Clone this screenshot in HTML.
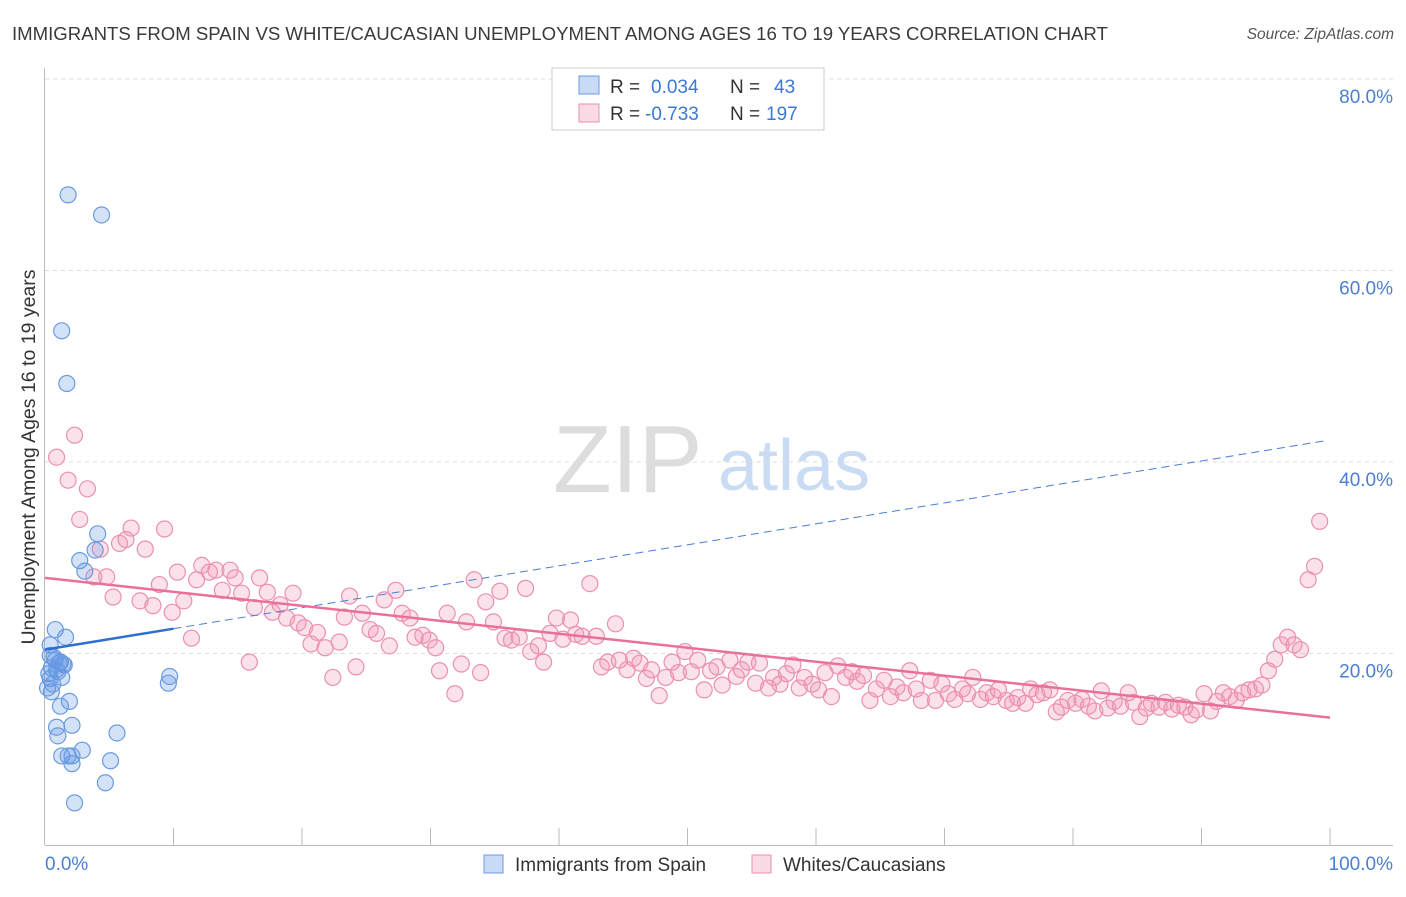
<!DOCTYPE html>
<html><head><meta charset="utf-8"><style>
body{margin:0;background:#fff;font-family:"Liberation Sans",sans-serif;}
svg text{font-family:"Liberation Sans",sans-serif;}
</style></head><body>
<svg id="chart" width="1406" height="892" xmlns="http://www.w3.org/2000/svg">
<text x="12" y="40" font-size="18.6" fill="#3a3a3a">IMMIGRANTS FROM SPAIN VS WHITE/CAUCASIAN UNEMPLOYMENT AMONG AGES 16 TO 19 YEARS CORRELATION CHART</text>
<text x="1394" y="39" font-size="15.5" fill="#555" text-anchor="end" font-style="italic">Source: ZipAtlas.com</text>
<g>
<text x="553" y="492" font-size="96" font-family="Liberation Serif" fill="#ddd">ZIP</text>
<text x="718" y="490" font-size="72" fill="#c9dcf3">atlas</text>
</g>
<g id="grid"></g>
<g id="axes"></g>
<g id="marks"></g>
<g>
<rect x="552" y="68" width="272" height="62" fill="#fff" stroke="#ccc"/>
<rect x="579" y="76" width="20" height="18" fill="rgba(100,150,230,0.35)" stroke="#6a9be0"/>
<rect x="579" y="104" width="20" height="18" fill="rgba(240,150,180,0.35)" stroke="#ec8fb0"/>
<text x="610" y="93" font-size="19" fill="#333">R =</text>
<text x="651" y="93" font-size="19" fill="#3b78d8">0.034</text>
<text x="730" y="93" font-size="19" fill="#333">N =</text>
<text x="774" y="93" font-size="19" fill="#3b78d8">43</text>
<text x="610" y="120" font-size="19" fill="#333">R =</text>
<text x="645" y="120" font-size="19" fill="#3b78d8">-0.733</text>
<text x="730" y="120" font-size="19" fill="#333">N =</text>
<text x="766" y="120" font-size="19" fill="#3b78d8">197</text>
</g>
<g>
<rect x="484" y="855" width="19" height="18" fill="rgba(100,150,230,0.35)" stroke="#6a9be0"/>
<text x="515" y="871" font-size="19" fill="#333">Immigrants from Spain</text>
<rect x="752" y="855" width="19" height="18" fill="rgba(240,150,180,0.35)" stroke="#ec8fb0"/>
<text x="783" y="871" font-size="19" fill="#333">Whites/Caucasians</text>
</g>
<text transform="translate(35,457) rotate(-90)" font-size="19.5" fill="#333" text-anchor="middle">Unemployment Among Ages 16 to 19 years</text>
</svg>
<script>
const yTicks=[20,40,60,80];
const yTickLabels=["20.0%","40.0%","60.0%","80.0%"];
const xTickLabels=["0.0%","100.0%"];
const blueX=[1.8,4.4,1.3,1.7,4.1,3.9,2.7,3.1,0.8,1.6,0.4,0.4,0.8,1.2,1.4,0.5,1.0,1.3,0.4,0.2,0.5,1.9,1.2,0.9,2.1,1.0,5.6,2.9,1.3,1.8,2.1,2.1,5.1,4.7,2.3,9.7,9.6,0.7,1.5,0.3,1.1,0.6,0.9];
const blueY=[67.9,65.8,53.7,48.2,32.5,30.8,29.7,28.6,22.5,21.7,20.9,19.8,19.3,19.1,18.9,18.5,18.1,17.5,17.4,16.4,16.0,15.0,14.5,12.3,12.5,11.4,11.7,9.9,9.3,9.3,9.3,8.5,8.8,6.5,4.4,17.6,16.9,19.6,18.8,17.9,19.0,16.8,18.3];
const pinkX=[0.9,2.3,1.8,3.3,2.7,4.3,3.8,4.8,5.3,5.8,6.7,6.3,7.8,7.4,8.4,8.9,9.3,9.9,10.3,10.8,11.4,11.8,12.2,12.8,13.3,13.8,14.4,14.8,15.3,15.9,16.3,16.7,17.3,17.7,18.3,18.8,19.3,19.7,20.2,20.7,21.2,21.8,22.4,22.9,23.3,23.7,24.2,24.7,25.3,25.8,26.4,26.8,27.3,27.8,28.4,28.8,29.4,29.9,30.4,30.7,31.3,31.9,32.4,32.8,33.4,33.9,34.3,34.9,35.4,35.8,36.3,36.9,37.4,37.8,38.4,38.8,39.3,39.8,40.3,40.9,41.3,41.8,42.4,42.9,43.3,43.8,44.4,44.7,45.3,45.8,46.3,46.8,47.2,47.8,48.3,48.8,49.3,49.8,50.3,50.8,51.3,51.8,52.3,52.7,53.3,53.8,54.2,54.7,55.3,55.6,56.3,56.7,57.2,57.7,58.2,58.7,59.1,59.7,60.2,60.7,61.2,61.7,62.3,62.8,63.2,63.7,64.2,64.7,65.3,65.8,66.3,66.8,67.3,67.8,68.2,68.9,69.3,69.8,70.3,70.8,71.4,71.8,72.2,72.8,73.3,73.8,74.2,74.8,75.3,75.7,76.3,76.7,77.2,77.7,78.2,78.7,79.1,79.6,80.2,80.7,81.2,81.7,82.2,82.7,83.2,83.7,84.3,84.7,85.2,85.7,86.1,86.7,87.2,87.7,88.2,88.7,89.2,89.6,90.2,90.7,91.2,91.7,92.2,92.7,93.2,93.7,94.2,94.7,95.2,95.7,96.2,96.7,97.2,97.7,98.3,98.8,99.2];
const pinkY=[40.5,42.8,38.1,37.2,34.0,30.9,28.0,28.0,25.9,31.5,33.1,31.9,30.9,25.5,25.0,27.2,33.0,24.3,28.5,25.5,21.6,27.7,29.2,28.5,28.7,26.6,28.7,27.9,26.3,19.1,24.8,27.9,26.4,24.3,25.1,23.7,26.3,23.2,22.7,21.0,22.2,20.6,17.5,21.2,23.8,26.0,18.6,24.2,22.5,22.1,25.6,20.8,26.6,24.2,23.7,21.7,21.9,21.4,20.6,18.2,24.2,15.8,18.9,23.3,27.7,18.0,25.4,23.3,26.5,21.6,21.4,21.7,26.8,20.2,20.8,19.1,22.1,23.7,21.5,23.5,22.0,21.8,27.3,21.8,18.6,19.1,23.1,19.3,18.3,19.5,19.0,17.4,18.3,15.6,17.5,19.1,18.0,20.2,18.1,19.3,16.2,18.2,18.6,16.7,19.3,17.6,18.3,19.1,16.9,19.0,16.4,17.5,16.8,17.9,18.8,16.4,17.5,16.8,16.2,18.0,15.5,18.7,17.5,18.1,17.1,17.7,15.1,16.3,17.2,15.5,16.5,15.9,18.2,16.3,15.1,17.2,15.1,16.8,15.8,15.2,16.3,15.8,17.5,15.2,15.9,15.5,16.2,15.1,14.8,15.4,14.8,16.3,15.7,15.9,16.2,13.9,14.4,15.1,14.8,15.2,14.5,14.0,16.1,14.3,15.0,14.5,15.9,14.9,13.4,14.3,14.8,14.4,14.9,14.2,14.6,14.4,13.6,14.1,15.8,14.0,15.0,15.9,15.5,15.1,15.9,16.2,16.3,16.7,18.2,19.4,20.9,21.7,20.9,20.4,27.7,29.1,33.8];
const blueTrend=[20.4,42.3];
const pinkTrend=[27.9,13.3];

const NS="http://www.w3.org/2000/svg";
const X=v=>45+v*12.85;
const Y=v=>845-v*9.575;
function mk(tag,attrs,parent){const e=document.createElementNS(NS,tag);for(const k in attrs)e.setAttribute(k,attrs[k]);document.getElementById(parent).appendChild(e);return e;}
yTicks.forEach((t,i)=>{
  const g=mk('line',{x1:45,x2:1393,y1:Y(t),y2:Y(t),stroke:'#ddd','stroke-dasharray':'4,4'},'grid');
  
  
  const l=mk('text',{x:1393,y:Y(t)+24,'font-size':19,fill:'#4a7fd4','text-anchor':'end'},'axes');
  l.textContent=yTickLabels[i];
  
  
});
const ax=mk('line',{x1:44.5,x2:44.5,y1:68,y2:845,stroke:'#bbb'},'axes');


const bx=mk('line',{x1:45,x2:1393,y1:845.5,y2:845.5,stroke:'#bbb'},'axes');


for(let i=1;i<=10;i++){
  const t=mk('line',{x1:X(i*10),x2:X(i*10),y1:828,y2:845,stroke:'#bbb'},'axes');
  
  
}
const xl0=mk('text',{x:45,y:870,'font-size':19,fill:'#4a7fd4'},'axes');xl0.textContent=xTickLabels[0];


const xl1=mk('text',{x:1393,y:870,'font-size':19,fill:'#4a7fd4','text-anchor':'end'},'axes');xl1.textContent=xTickLabels[1];



pinkX.forEach((x,i)=>{
  const c=mk('circle',{cx:X(x),cy:Y(pinkY[i]),r:8,fill:'rgba(240,150,180,0.28)',stroke:'#ec8fb0','stroke-width':1.2},'marks');
  
  
});
blueX.forEach((x,i)=>{
  const c=mk('circle',{cx:X(x),cy:Y(blueY[i]),r:8,fill:'rgba(100,150,230,0.28)',stroke:'#6a9be0','stroke-width':1.2},'marks');
  
  
});
const bt=v=>blueTrend[0]+(blueTrend[1]-blueTrend[0])*v/100;
const b1=mk('line',{x1:X(0),y1:Y(bt(0)),x2:X(10),y2:Y(bt(10)),stroke:'#2f6fd0','stroke-width':2.5},'marks');


const b2=mk('line',{x1:X(10),y1:Y(bt(10)),x2:X(99.6),y2:Y(bt(99.6)),stroke:'#4a7fd4','stroke-width':1,'stroke-dasharray':'8,5'},'marks');


const p=mk('line',{x1:X(0),y1:Y(pinkTrend[0]),x2:X(100),y2:Y(pinkTrend[1]),stroke:'#e8709a','stroke-width':2.5},'marks');


</script>
</body></html>
